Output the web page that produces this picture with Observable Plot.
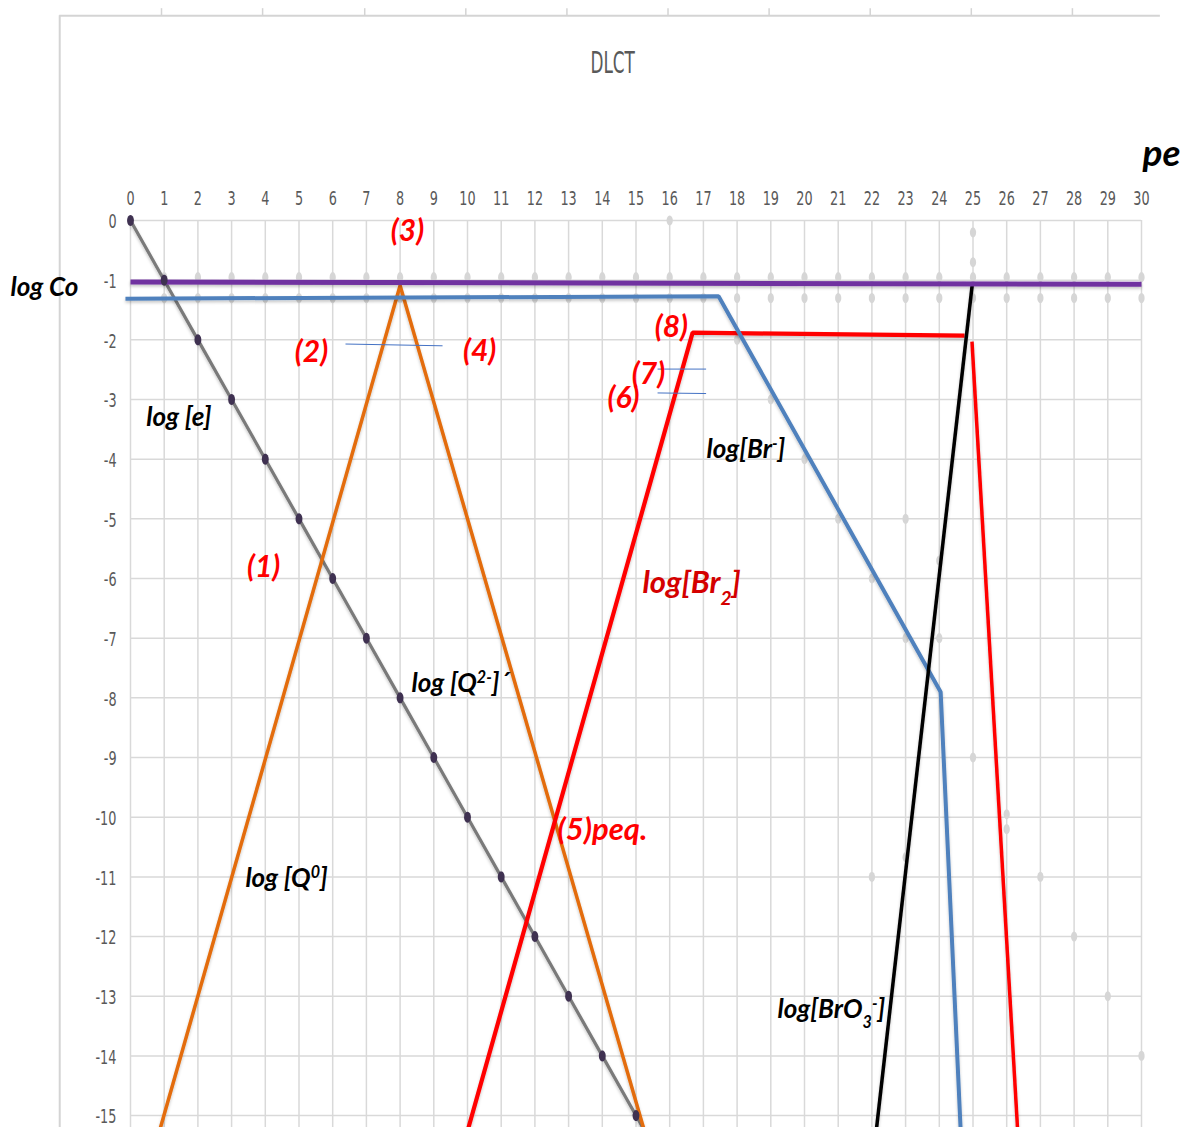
<!DOCTYPE html>
<html>
<head>
<meta charset="utf-8">
<script src="https://cdn.jsdelivr.net/npm/d3@7"></script>
<script src="https://cdn.jsdelivr.net/npm/@observablehq/plot@0.6"></script>
<style>
  html, body { margin: 0; padding: 0; background: #fff; }
  #chart { width: 1187px; height: 1127px; overflow: hidden; }
</style>
</head>
<body>
<div id="chart"></div>
<script>
// ---------- data ----------
const peTicks = d3.range(0, 31);
const logTicks = d3.range(0, -16, -1);

// log[e] : slope -1, dark markers at integers
const eX = [0,1,2,3,4,5,6,7,8,9,10,11,12,13,14,15,15.2];
const eY = [0,-1,-2,-3,-4,-5,-6,-7,-8,-9,-10,-11,-12,-13,-14,-15,-15.2];
const eDotX = [0,1,2,3,4,5,6,7,8,9,10,11,12,13,14,15];
const eDotY = [0,-1,-2,-3,-4,-5,-6,-7,-8,-9,-10,-11,-12,-13,-14,-15];

// log Co (purple)
const coX = [0, 30];
const coY = [-1.03, -1.07];

// log[Br-] (blue)
const brX = [-0.15, 17.45, 24.04, 24.63];
const brY = [-1.31, -1.27, -7.9, -15.2];

// log[Q0] / log[Q2-] (orange)
const qX = [0.89, 8, 15.22];
const qY = [-15.2, -1.09, -15.2];

// log[Br2] (red) two pieces
const br2aX = [10.03, 16.68, 24.75];
const br2aY = [-15.2, -1.88, -1.93];
const br2bX = [24.97, 26.32];
const br2bY = [-2.03, -15.2];

// log[BrO3-] (black)
const bro3X = [22.14, 24.98];
const bro3Y = [-15.2, -1.06];

// faint gray markers (hidden series)
const rowX = d3.range(1, 31);
const rowAY = rowX.map(() => -0.95);
const rowBY = rowX.map(() => -1.3);
const faintX = [16, 25, 25, 18, 19, 20, 21, 22, 23, 24, 23, 24, 25, 26, 26, 22, 23, 27, 28, 29, 30];
const faintY = [0, -0.2, -0.7, -2, -3, -4, -5, -6, -7, -7, -5, -5.7, -9, -9.95, -10.2, -11, -10.67, -11, -12, -13, -14];

// thin blue annotation strokes
const annX1 = [6.38, 15.64, 15.64];
const annX2 = [9.26, 17.08, 17.08];
const annY1 = [-2.07, -2.49, -2.89];
const annY2 = [-2.1, -2.49, -2.9];

// labels
const numText = ["(3)", "(2)", "(4)", "(1)", "(8)", "(7)", "(6)"];
const numX = [8.22, 5.37, 10.36, 3.95, 16.05, 15.37, 14.63];
const numY = [-0.18, -2.21, -2.2, -5.82, -1.79, -2.58, -2.98];

const spText = ["log [e]", "log [Q^{2-}]´", "log [Q^{0}]", "log[Br^{-}]", "log[BrO_{3}^{-}]"];
const spX = [0.47, 8.34, 3.41, 17.09, 19.2];
const spY = [-3.3, -7.76, -11.03, -3.84, -13.22];

const redText = ["(5)peq.", "log[Br_{2}]"];
const redX = [12.67, 15.19];
const redY = [-10.22, -6.08];
const redColor = ["#ff0000", "#d40000"];

// outer chart frame
const frameLeftX = -2.1, frameTopY = 3.43, frameRightX = 30.56, frameTickTopY = 3.55;
const frameTicks = [0.92, 3.92, 6.95, 9.95, 12.95, 15.95, 18.95, 21.95, 24.95, 27.95];

// ---------- helpers ----------
const pts = (xs, ys) => xs.map((x, i) => ({x, y: ys[i]}));
const ellipse = {
  draw(ctx, size) {
    const r = Math.sqrt(size / Math.PI), rx = r * 0.62, ry = r;
    for (let i = 0; i <= 24; i++) {
      const a = i / 24 * 2 * Math.PI;
      const px = rx * Math.cos(a), py = ry * Math.sin(a);
      if (i) ctx.lineTo(px, py); else ctx.moveTo(px, py);
    }
    ctx.closePath();
  }
};
const labelFont = "Lato, 'Open Sans', 'DejaVu Sans', sans-serif";
const tickFont = "'DejaVu Sans Condensed', 'DejaVu Sans', sans-serif";

const lineOpts = (color, w) => ({x: "x", y: "y", stroke: color, strokeWidth: w, strokeLinejoin: "miter", strokeLinecap: "butt", className: "series-line"});

const chart = Plot.plot({
  width: 1187,
  height: 1127,
  marginLeft: 130,
  marginRight: 46,
  marginTop: 220,
  marginBottom: 0,
  x: {domain: [0, 30]},
  y: {domain: [-15.2, 0]},
  style: {background: "#fff", fontFamily: tickFont, fontSize: "15px", overflow: "visible"},
  marks: [
    // frame
    Plot.ruleX([frameLeftX], {y1: -15.2, y2: frameTopY, stroke: "#d4d4d4", strokeWidth: 2, clip: false}),
    Plot.ruleY([frameTopY], {x1: frameLeftX, x2: frameRightX, stroke: "#d4d4d4", strokeWidth: 2, clip: false}),
    Plot.ruleX(frameTicks, {y1: frameTopY, y2: frameTickTopY, stroke: "#d4d4d4", strokeWidth: 1.5, clip: false}),
    // grid
    Plot.gridX({ticks: peTicks, stroke: "#d9d9d9", strokeOpacity: 1, strokeWidth: 1.5}),
    Plot.gridY({ticks: logTicks, stroke: "#d9d9d9", strokeOpacity: 1, strokeWidth: 1.5}),
    // faint markers
    Plot.dot(pts(rowX, rowAY), {x: "x", y: "y", r: 5, symbol: ellipse, fill: "#d6d6d6", stroke: "none"}),
    Plot.dot(pts(rowX, rowBY), {x: "x", y: "y", r: 5, symbol: ellipse, fill: "#d6d6d6", stroke: "none"}),
    Plot.dot(pts(faintX, faintY), {x: "x", y: "y", r: 5, symbol: ellipse, fill: "#d6d6d6", stroke: "none"}),
    // series
    Plot.line(pts(eX, eY), lineOpts("#7a7a7a", 3.2)),
    Plot.line(pts(qX, qY), lineOpts("#e36c0a", 3.5)),
    Plot.line(pts(br2aX, br2aY), lineOpts("#ff0000", 4.2)),
    Plot.line(pts(br2bX, br2bY), lineOpts("#ff0000", 3.5)),
    Plot.line(pts(brX, brY), lineOpts("#4f81bd", 4)),
    Plot.line(pts(bro3X, bro3Y), lineOpts("#000000", 3.5)),
    Plot.line(pts(coX, coY), lineOpts("#7030a0", 5)),
    Plot.dot(pts(eDotX, eDotY), {x: "x", y: "y", r: 5.5, symbol: ellipse, fill: "#3f3151", stroke: "none"}),
    // annotation strokes
    Plot.link(annX1.map((d, i) => i), {x1: i => annX1[i], y1: i => annY1[i], x2: i => annX2[i], y2: i => annY2[i], stroke: "#4472c4", strokeWidth: 1}),
    // axes
    Plot.axisX({anchor: "top", ticks: peTicks, tickSize: 0, tickPadding: 17, dy: -9, fill: "#595959", fontSize: 15, label: null, className: "stretch-tick"}),
    Plot.axisY({anchor: "left", ticks: logTicks, tickSize: 0, tickPadding: 13, fill: "#595959", fontSize: 15, label: null, tickFormat: d => String(d), dy: 2, className: "stretch-tick"}),
    // labels
    Plot.text(numText, {x: (d, i) => numX[i], y: (d, i) => numY[i], text: d => d, fill: "#ff0000", fontSize: 30, fontWeight: "bold", fontStyle: "italic", fontFamily: labelFont, textAnchor: "middle"}),
    Plot.text(spText, {x: (d, i) => spX[i], y: (d, i) => spY[i], text: d => d, fill: "#000", fontSize: 26, fontWeight: "bold", fontStyle: "italic", fontFamily: labelFont, textAnchor: "start"}),
    Plot.text(redText, {x: (d, i) => redX[i], y: (d, i) => redY[i], text: d => d, fill: (d, i) => redColor[i], fontSize: 31, fontWeight: "bold", fontStyle: "italic", fontFamily: labelFont, textAnchor: "start"}),
    Plot.text(["log Co"], {x: -3.56, y: -1.12, text: d => d, fill: "#000", fontSize: 26, fontWeight: "bold", fontStyle: "italic", fontFamily: labelFont, textAnchor: "start", clip: false}),
    Plot.text(["pe"], {x: 30.03, y: 1.12, text: d => d, fill: "#000", fontSize: 37, fontWeight: "bold", fontStyle: "italic", fontFamily: labelFont, textAnchor: "start", clip: false}),
    Plot.text(["DLCT"], {x: 14.3, y: 2.63, text: d => d, fill: "#595959", fontSize: 24, fontFamily: tickFont, textAnchor: "middle", clip: false, className: "stretch-title"})
  ]
});
chart.setAttribute("overflow", "visible");
document.getElementById("chart").appendChild(chart);

// soft Excel-like shadow under the series lines (filter region = whole canvas)
const defs = d3.select(chart).insert("defs", ":first-child");
defs.append("filter").attr("id", "softShadow")
  .attr("filterUnits", "userSpaceOnUse")
  .attr("x", 0).attr("y", 0).attr("width", 1187).attr("height", 1127)
  .append("feDropShadow").attr("dx", 0).attr("dy", 2).attr("stdDeviation", 1.5)
  .attr("flood-color", "#000").attr("flood-opacity", 0.22);
d3.select(chart).selectAll(".series-line").attr("filter", "url(#softShadow)");

// rich text: ^{..} superscript, _{..} subscript
d3.select(chart).selectAll("text").each(function () {
  const t = this.textContent;
  if (!/[\^_]\{/.test(t)) return;
  const sel = d3.select(this);
  sel.text(null);
  const re = /([\^_])\{([^}]*)\}/g;
  let last = 0, m;
  while ((m = re.exec(t))) {
    if (m.index > last) sel.append("tspan").text(t.slice(last, m.index));
    sel.append("tspan")
      .attr("baseline-shift", m[1] === "^" ? "super" : "sub")
      .attr("font-size", "62%")
      .text(m[2]);
    last = re.lastIndex;
  }
  if (last < t.length) sel.append("tspan").text(t.slice(last));
});

// narrow/tall glyphs like the reference: stretch text around its own centre
function stretch(el, sx, sy) {
  const svgRect = chart.getBoundingClientRect();
  const r = el.getBoundingClientRect();
  const cx = r.left - svgRect.left + r.width / 2;
  const cy = r.top - svgRect.top + r.height / 2;
  const g = document.createElementNS("http://www.w3.org/2000/svg", "g");
  g.setAttribute("transform", `translate(${cx},${cy}) scale(${sx},${sy}) translate(${-cx},${-cy})`);
  el.parentNode.insertBefore(g, el);
  g.appendChild(el);
}
chart.querySelectorAll(".stretch-tick text").forEach(el => stretch(el, 0.95, 1.35));
chart.querySelectorAll(".stretch-title text").forEach(el => stretch(el, 0.78, 1.25));
</script>
</body>
</html>
